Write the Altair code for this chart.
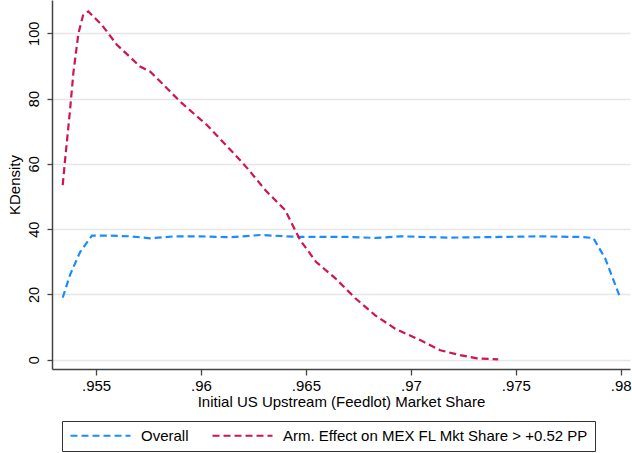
import altair as alt
import pandas as pd

# Kernel density estimates of initial US upstream (feedlot) market share
overall_x = [0.95341, 0.95376, 0.95424, 0.95480, 0.95567, 0.95662, 0.95757, 0.95877,
             0.95996, 0.96139, 0.96282, 0.96472, 0.96711, 0.96830, 0.96949, 0.97187,
             0.97426, 0.97616, 0.97807, 0.97869, 0.97926, 0.97997]
overall_y = [19.0, 26.0, 33.0, 38.0, 38.0, 37.8, 37.2, 37.8,
             37.8, 37.5, 38.2, 37.6, 37.6, 37.3, 37.8, 37.4,
             37.6, 37.8, 37.6, 37.3, 31.0, 19.0]

arm_x = [0.95341, 0.95352, 0.95376, 0.95392, 0.95416, 0.95438, 0.95463, 0.95527,
         0.95599, 0.95710, 0.95757, 0.95789, 0.95900, 0.96028, 0.96171, 0.96220,
         0.96306, 0.96401, 0.96472, 0.96549, 0.96639, 0.96734, 0.96830, 0.96925,
         0.97044, 0.97140, 0.97235, 0.97315, 0.97416]
arm_y = [53.5, 61.0, 76.5, 88.0, 100.0, 105.5, 106.7, 102.6,
         96.5, 89.8, 88.3, 86.3, 79.1, 71.9, 62.2, 58.7,
         52.0, 45.8, 36.7, 29.9, 25.0, 18.9, 13.6, 9.5,
         6.0, 2.9, 1.4, 0.4, 0.1]

series_names = ["Overall", "Arm. Effect on MEX FL Mkt Share > +0.52 PP"]
series_colors = ["#1a8cff", "#d0144f"]
x_ticks = [0.955, 0.96, 0.965, 0.97, 0.975, 0.98]
y_ticks = [0, 20, 40, 60, 80, 100]

df = pd.concat([
    pd.DataFrame({"share": overall_x, "density": overall_y, "group": series_names[0], "order": range(len(overall_x))}),
    pd.DataFrame({"share": arm_x, "density": arm_y, "group": series_names[1], "order": range(len(arm_x))}),
])

FONT = "Liberation Sans"

chart = alt.Chart(df).mark_line(
    strokeDash=[7, 4], strokeWidth=2.2, clip=True
).encode(
    x=alt.X(
        "share:Q",
        scale=alt.Scale(domain=[0.95290, 0.98044], nice=False, zero=False),
        axis=alt.Axis(
            values=x_ticks,
            labelExpr="replace(format(datum.value, '.3~f'), /^0/, '')",
            title="Initial US Upstream (Feedlot) Market Share",
            grid=False,
            tickSize=6,
            labelFontSize=15,
            labelPadding=3,
            titlePadding=1,
        ),
    ),
    y=alt.Y(
        "density:Q",
        scale=alt.Scale(domain=[-2.85, 110.2], nice=False, zero=False),
        axis=alt.Axis(
            values=y_ticks,
            title="KDensity",
            tickSize=5,
            labelFontSize=14.5,
            labelAngle=270,
            labelAlign="center",
            labelBaseline="bottom",
            labelPadding=6,
            titlePadding=4,
        ),
    ),
    color=alt.Color(
        "group:N",
        scale=alt.Scale(domain=series_names, range=series_colors),
        legend=alt.Legend(
            title=None,
            orient="none",
            legendX=10,
            legendY=421,
            direction="horizontal",
            symbolType="stroke",
            symbolSize=3600,
            symbolStrokeWidth=2.2,
            symbolDash=[7, 4],
            clipHeight=15,
            labelFontSize=15,
            labelFont=FONT,
            labelColor="#000000",
            labelOffset=9,
            columnPadding=22,
            padding=7,
            strokeColor="#333333",
            fillColor="#ffffff",
            labelLimit=600,
        ),
    ),
    order="order:Q",
).properties(
    width=578,
    height=369,
    autosize=alt.AutoSizeParams(type="none"),
    padding={"left": 52, "top": 0, "right": 2, "bottom": 84},
    background="#ffffff",
).configure_view(
    stroke=None
).configure_axis(
    labelFont=FONT,
    titleFont=FONT,
    titleFontSize=15,
    titleFontWeight="normal",
    labelColor="#000000",
    titleColor="#000000",
    domainColor="#444444",
    domainWidth=1.5,
    tickColor="#444444",
    tickWidth=1.3,
    gridColor="#e6e6e6",
    gridWidth=1.5,
)

chart.save("out.html", embed_options={"renderer": "svg", "actions": False})
